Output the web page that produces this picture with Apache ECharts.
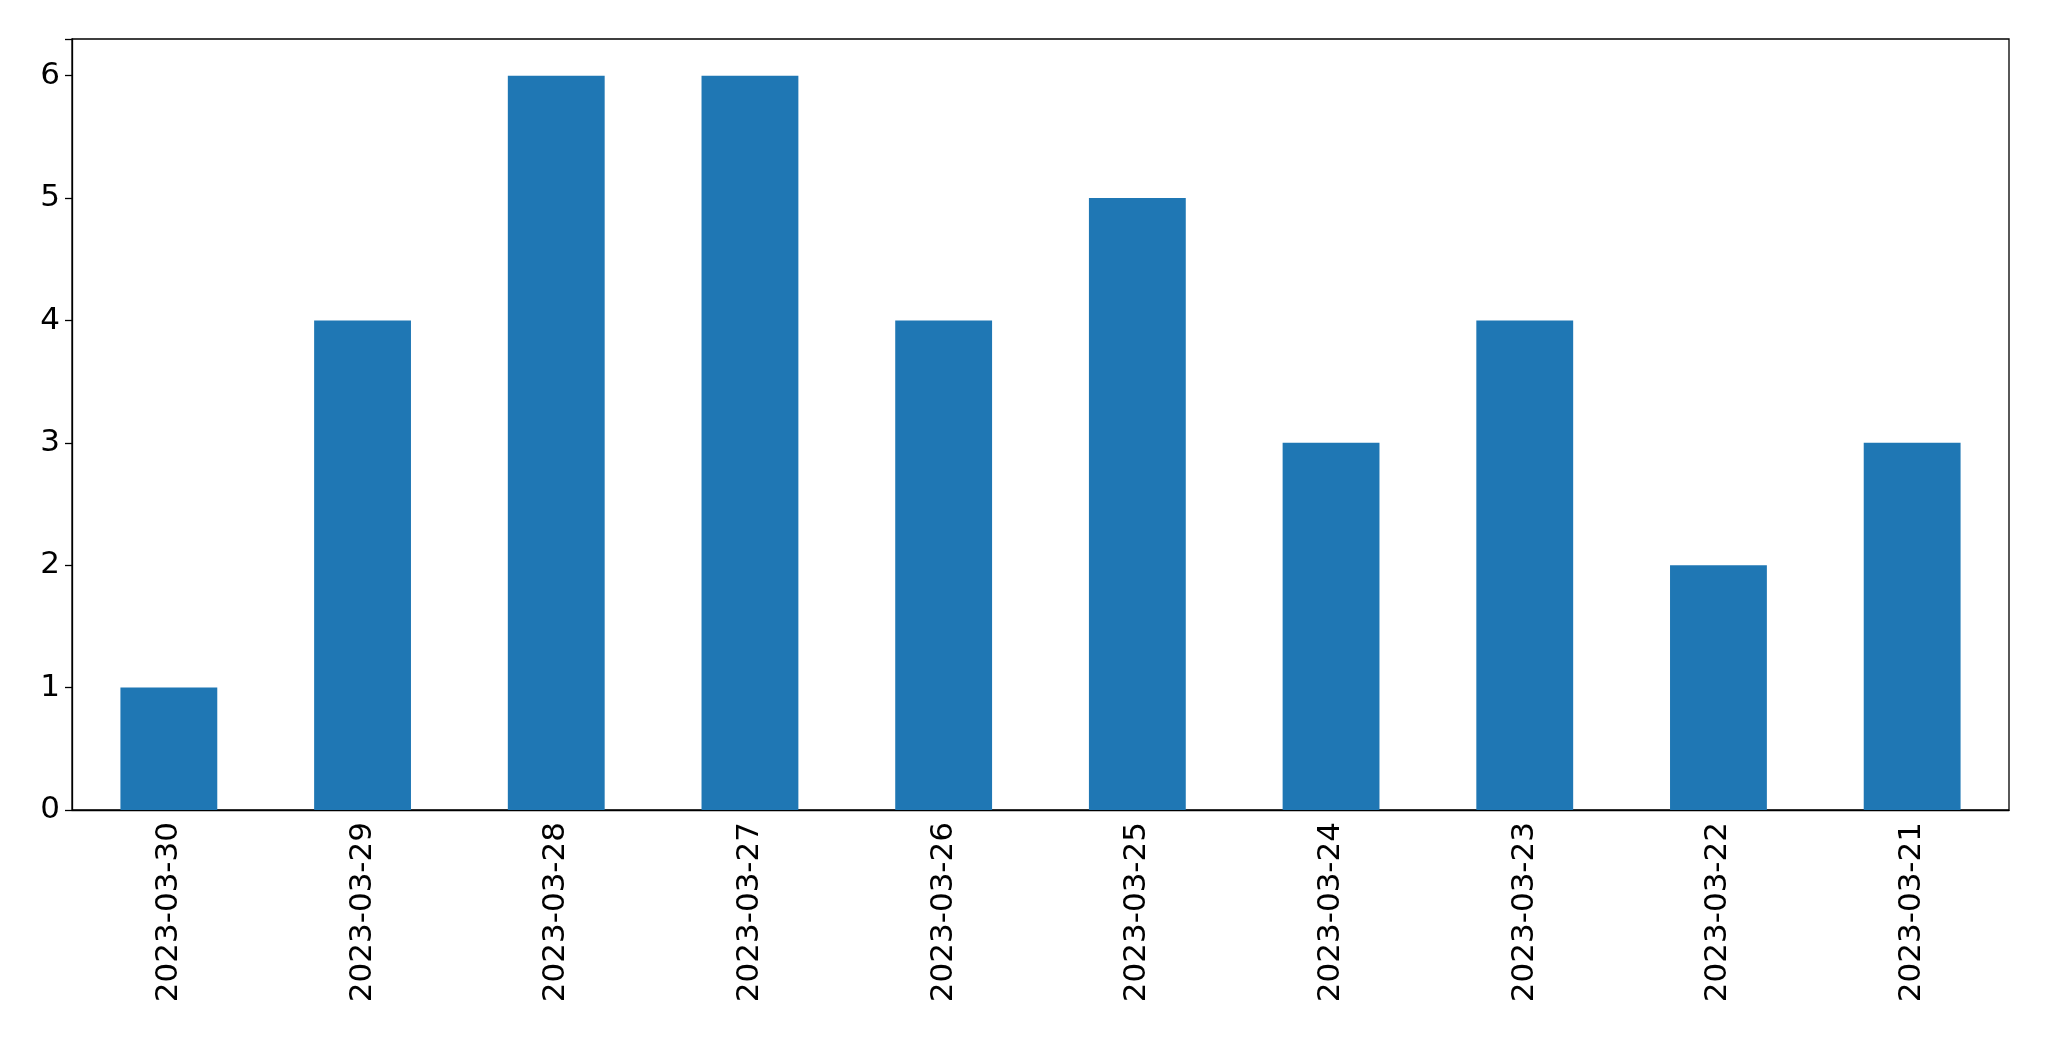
<!DOCTYPE html>
<html><head><meta charset="utf-8">
<script src="https://cdn.jsdelivr.net/npm/echarts@6/dist/echarts.min.js"></script>
<style>html,body{margin:0;padding:0;background:#fff}#c{width:2049px;height:1061px}</style>
</head><body><div id="c"></div>
<script>
const categories = ["2023-03-30","2023-03-29","2023-03-28","2023-03-27","2023-03-26","2023-03-25","2023-03-24","2023-03-23","2023-03-22","2023-03-21"];
const values = [1,4,6,6,4,5,3,4,2,3];
const yTicks = [0,1,2,3,4,5,6];
const chart = echarts.init(document.getElementById('c'));
chart.setOption({
  animation:false,
  grid:{left:72,right:40,top:39,bottom:251,show:true,borderColor:'#000',borderWidth:1.3},
  xAxis:{type:'category',data:categories,boundaryGap:true,
    axisLine:{lineStyle:{color:'#000',width:1.3}},
    axisTick:{alignWithLabel:true,length:7,lineStyle:{color:'#000',width:1.3}},
    axisLabel:{rotate:90,fontSize:31,color:'#000',fontFamily:'DejaVu Sans',margin:12}},
  yAxis:{type:'value',min:0,max:6.3,interval:1,
    axisLine:{show:true,lineStyle:{color:'#000',width:1.3}},
    axisTick:{show:true,length:7,lineStyle:{color:'#000',width:1.3}},
    splitLine:{show:false},
    axisLabel:{fontSize:31,color:'#000',fontFamily:'DejaVu Sans',margin:12,
      formatter:v=>yTicks.includes(v)?String(v):''}},
  series:[{type:'bar',data:values,barWidth:'50%',itemStyle:{color:'#1f77b4'}}]
});
</script></body></html>
